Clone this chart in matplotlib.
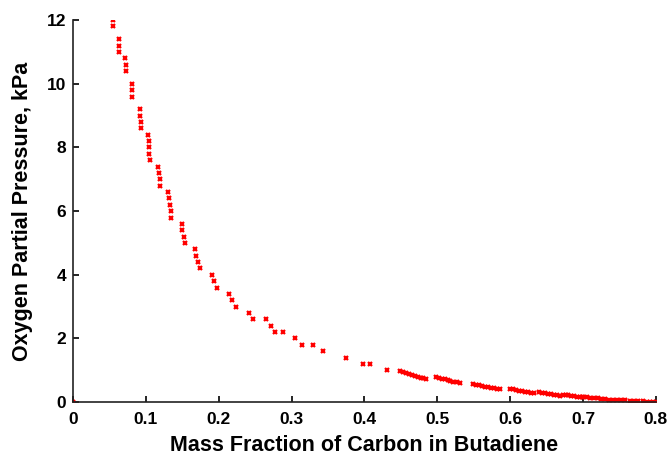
import numpy as np
import matplotlib
matplotlib.use("Agg")
import matplotlib.pyplot as plt

plt.rcParams['font.family'] = ['Liberation Sans', 'DejaVu Sans']

# sparse points (mass fraction, kPa)
x_sparse = [0.0, 0.0553, 0.0553, 0.0627, 0.0627, 0.0636, 0.0718, 0.0727, 0.0732,
            0.0814, 0.0814, 0.0814, 0.0915, 0.0924, 0.0929, 0.0938, 0.1029, 0.1038,
            0.1043, 0.1048, 0.1057, 0.1166, 0.1175, 0.1189, 0.1198, 0.1308, 0.1317,
            0.1331, 0.1340, 0.1349, 0.1491, 0.1500, 0.1519, 0.1541, 0.1670, 0.1688,
            0.1715, 0.1743, 0.1912, 0.1939, 0.1971, 0.2145, 0.2177, 0.2232, 0.2415,
            0.2474, 0.2648, 0.2713, 0.2772, 0.2877, 0.3042, 0.3142, 0.3298, 0.3430,
            0.3744, 0.3984, 0.4075, 0.4304]
y_sparse = [0.0, 12.0, 11.8, 11.4, 11.2, 11.0, 10.8, 10.6, 10.4,
            10.0, 9.8, 9.6, 9.2, 9.0, 8.8, 8.6, 8.4, 8.2,
            8.0, 7.8, 7.6, 7.4, 7.2, 7.0, 6.8, 6.6, 6.4,
            6.2, 6.0, 5.8, 5.6, 5.4, 5.2, 5.0, 4.8, 4.6,
            4.4, 4.2, 4.0, 3.8, 3.6, 3.4, 3.2, 3.0, 2.8,
            2.6, 2.6, 2.4, 2.2, 2.2, 2.0, 1.8, 1.8, 1.6,
            1.4, 1.2, 1.2, 1.0]

# dense runs at high mass fraction
x_dense = [0.449, 0.453, 0.457, 0.461, 0.465, 0.469, 0.473, 0.477, 0.481, 0.485,
           0.498, 0.502, 0.506, 0.510, 0.514, 0.518, 0.522, 0.527, 0.531,
           0.549, 0.553, 0.557, 0.561, 0.565, 0.569, 0.574, 0.578, 0.582, 0.586,
           0.600, 0.604, 0.608, 0.612, 0.616, 0.620, 0.624, 0.628, 0.632,
           0.640, 0.644, 0.648, 0.652, 0.656, 0.660, 0.664, 0.668,
           0.672, 0.676, 0.680, 0.684, 0.688, 0.692, 0.696, 0.698,
           0.700, 0.705, 0.710, 0.715, 0.720, 0.725, 0.730, 0.735,
           0.741, 0.746, 0.752, 0.758, 0.764, 0.770, 0.776, 0.782, 0.788, 0.792,
           0.796, 0.800]
y_dense = [0.98, 0.95, 0.92, 0.89, 0.86, 0.83, 0.80, 0.77, 0.75, 0.72,
           0.79, 0.77, 0.74, 0.72, 0.69, 0.67, 0.64, 0.62, 0.59,
           0.56, 0.54, 0.53, 0.51, 0.49, 0.47, 0.45, 0.44, 0.42, 0.41,
           0.42, 0.40, 0.38, 0.36, 0.35, 0.33, 0.31, 0.30, 0.28,
           0.32, 0.30, 0.28, 0.27, 0.25, 0.23, 0.22, 0.20,
           0.24, 0.22, 0.21, 0.20, 0.18, 0.17, 0.16, 0.15,
           0.17, 0.15, 0.14, 0.13, 0.12, 0.10, 0.09, 0.08,
           0.08, 0.07, 0.06, 0.06, 0.05, 0.04, 0.03, 0.03, 0.02, 0.02,
           0.01, 0.01]

x_ticks = [0, 0.1, 0.2, 0.3, 0.4, 0.5, 0.6, 0.7, 0.8]
x_labels = ['0', '0.1', '0.2', '0.3', '0.4', '0.5', '0.6', '0.7', '0.8']
y_ticks = [0, 2, 4, 6, 8, 10, 12]

fig = plt.figure(figsize=(6.7, 4.57), dpi=100)
ax = fig.add_axes([0.109, 0.120, 0.870, 0.836])

mk = dict(linestyle='none', marker='x', color='red', markersize=3, markeredgewidth=1.6)
ax.plot(x_sparse, y_sparse, **mk)
ax.plot(x_dense, y_dense, **mk)

ax.set_xlim(0, 0.8)
ax.set_ylim(0, 12)
ax.set_xticks(x_ticks)
ax.set_xticklabels(x_labels)
ax.set_yticks(y_ticks)

for s in ['top', 'right']:
    ax.spines[s].set_visible(False)
for s in ['left', 'bottom']:
    ax.spines[s].set_linewidth(1.2)
    ax.spines[s].set_color('#222222')

ax.tick_params(direction='in', length=4, width=1.2, labelsize=12.5)
ax.tick_params(axis='x', pad=7)
ax.tick_params(axis='y', pad=5)
for lab in ax.get_xticklabels() + ax.get_yticklabels():
    lab.set_fontweight('bold')

ax.set_xlabel('Mass Fraction of Carbon in Butadiene', fontsize=15.5, fontweight='bold', labelpad=6)
ax.set_ylabel('Oxygen Partial Pressure, kPa', fontsize=15.5, fontweight='bold', labelpad=10)

for t in ax.get_xticklabels() + ax.get_yticklabels():
    t.set_clip_on(False)

fig.savefig('out.png', dpi=100)
